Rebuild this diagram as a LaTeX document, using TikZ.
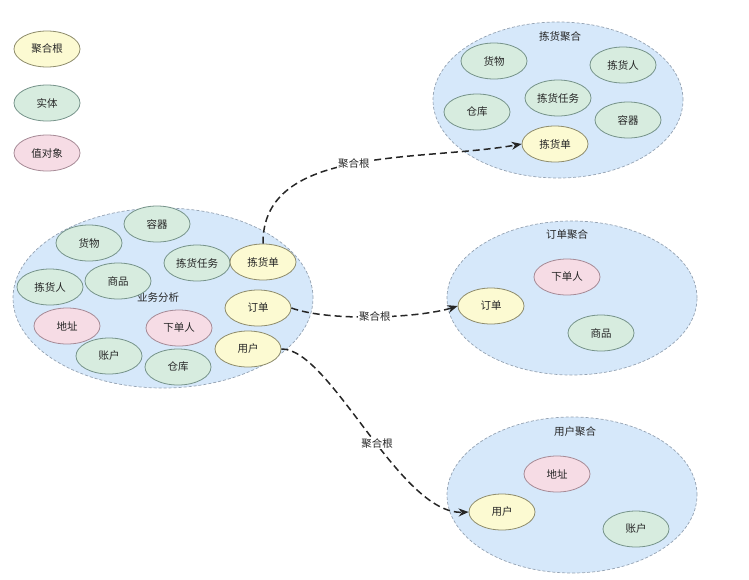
\documentclass[tikz,border=0pt]{standalone}
\usepackage{fontspec}
\setmainfont{Noto Sans CJK SC}
\usetikzlibrary{shapes.geometric,arrows.meta}
\definecolor{rootfill}{HTML}{FCFAD2}
\definecolor{rootline}{HTML}{8E8C6C}
\definecolor{entfill}{HTML}{D7ECDF}
\definecolor{entline}{HTML}{76938A}
\definecolor{valfill}{HTML}{F6DCE5}
\definecolor{valline}{HTML}{A68A96}
\definecolor{aggfill}{HTML}{D6E8FA}
\definecolor{aggline}{HTML}{94A2B2}
\definecolor{txt}{HTML}{262626}
\tikzset{
  x=1pt, y=-1pt,
  every node/.style={font=\fontsize{10.5}{12}\selectfont, text=txt},
  oval/.style={ellipse, minimum width=66pt, minimum height=36pt, inner sep=0pt, line width=0.8pt},
  rootn/.style={oval, draw=rootline, fill=rootfill},
  entn/.style={oval, draw=entline, fill=entfill},
  valn/.style={oval, draw=valline, fill=valfill},
  agg/.style={ellipse, draw=aggline, fill=aggfill, dashed, dash pattern=on 3pt off 2pt, line width=0.7pt, inner sep=0pt},
  link/.style={draw=black!85, line width=1.5pt, dash pattern=on 7pt off 4pt, -{Stealth[length=10pt,width=8pt]}},
  lbl/.style={fill=white, inner sep=1pt}
}
\begin{document}
\begin{tikzpicture}
\useasboundingbox (0,0) rectangle (749,579);

% legend
\node[rootn] (lgroot) at (47,49) {聚合根};
\node[entn]  (lgent)  at (47,103) {实体};
\node[valn]  (lgval)  at (47,153) {值对象};

% big analysis ellipse
\node[agg, minimum width=300pt, minimum height=180pt] (ana) at (163,298) {};
\node (analbl) at (158,298) {业务分析};
\node[entn] (a1) at (157,224) {容器};
\node[entn] (a2) at (89,243) {货物};
\node[entn] (a3) at (197,263) {拣货任务};
\node[rootn] (a4) at (263,262) {拣货单};
\node[entn] (a5) at (50,287) {拣货人};
\node[entn] (a6) at (118,281) {商品};
\node[valn] (a7) at (67,326) {地址};
\node[valn] (a8) at (179,328) {下单人};
\node[rootn] (a9) at (258,308) {订单};
\node[rootn] (a10) at (248,349) {用户};
\node[entn] (a11) at (109,356) {账户};
\node[entn] (a12) at (178,367) {仓库};

% picking aggregate
\node[agg, minimum width=250pt, minimum height=156pt] (pk) at (558,100) {};
\node (pklbl) at (560,37) {拣货聚合};
\node[entn] (p1) at (494,61) {货物};
\node[entn] (p2) at (623,65) {拣货人};
\node[entn] (p3) at (558,98) {拣货任务};
\node[entn] (p4) at (477,112) {仓库};
\node[entn] (p5) at (628,120) {容器};
\node[rootn] (p6) at (555,144) {拣货单};

% order aggregate
\node[agg, minimum width=250pt, minimum height=154pt] (od) at (572,298) {};
\node (odlbl) at (567,235) {订单聚合};
\node[valn] (o1) at (567,277) {下单人};
\node[rootn] (o2) at (491,306) {订单};
\node[entn] (o3) at (601,333) {商品};

% user aggregate
\node[agg, minimum width=250pt, minimum height=156pt] (us) at (572,495) {};
\node (uslbl) at (575,432) {用户聚合};
\node[valn] (u1) at (557,474) {地址};
\node[rootn] (u2) at (502,512) {用户};
\node[entn] (u3) at (636,529) {账户};

% connectors
\draw[link] (a4.north) .. controls (262,145) and (420,162) .. (p6.west)
  node[lbl, pos=0.5] {聚合根};
\draw[link] (a9.east) .. controls (330,322) and (420,318) .. (o2.west)
  node[lbl, pos=0.5] {聚合根};
\draw[link] (a10.east) .. controls (330,348) and (400,515) .. (u2.west)
  node[lbl, pos=0.55] {聚合根};
\end{tikzpicture}
\end{document}
